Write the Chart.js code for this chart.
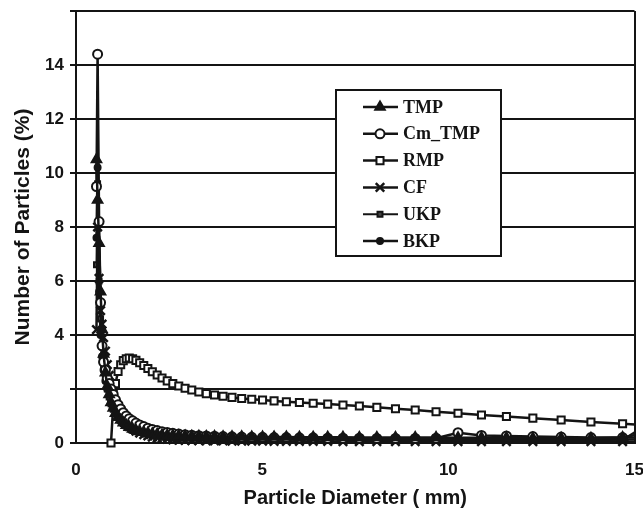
<!DOCTYPE html>
<html>
<head>
<meta charset="utf-8">
<script src="https://cdn.jsdelivr.net/npm/chart.js@4/dist/chart.umd.min.js"></script>
<style>
html, body { margin: 0; padding: 0; background: #fff; }
#wrap { width: 643px; height: 512px; }
</style>
</head>
<body>
<div id="wrap"><canvas id="psd"></canvas></div>
<script>
// particle diameter bins (mm)
const diameter = [0.55, 0.58, 0.62, 0.66, 0.70, 0.74, 0.79, 0.84, 0.89, 0.94,
  1.00, 1.06, 1.13, 1.20, 1.27, 1.35, 1.43, 1.52, 1.61, 1.71,
  1.82, 1.93, 2.05, 2.18, 2.31, 2.45, 2.60, 2.76, 2.93, 3.11,
  3.30, 3.50, 3.72, 3.95, 4.19, 4.45, 4.72, 5.01, 5.32, 5.65,
  6.00, 6.37, 6.76, 7.17, 7.61, 8.08, 8.58, 9.11, 9.67, 10.26,
  10.89, 11.56, 12.27, 13.03, 13.83, 14.68, 15.58];

const tmp = [10.5, 9.0, 7.4, 5.6, 4.2, 3.3, 2.6, 2.1, 1.8, 1.5,
  1.3, 1.1, 0.95, 0.85, 0.75, 0.66, 0.58, 0.52, 0.47, 0.43,
  0.40, 0.37, 0.34, 0.32, 0.30, 0.29, 0.28, 0.27, 0.26, 0.25,
  0.25, 0.24, 0.24, 0.23, 0.23, 0.23, 0.22, 0.22, 0.22, 0.22,
  0.21, 0.21, 0.21, 0.21, 0.20, 0.20, 0.20, 0.20, 0.20, 0.19,
  0.19, 0.19, 0.18, 0.18, 0.18, 0.20, 0.45];

const cmTmp = [9.5, 14.4, 8.2, 5.2, 3.6, 3.0, 2.7, 2.4, 2.2, 2.0,
  1.8, 1.6, 1.42, 1.26, 1.12, 1.0, 0.9, 0.82, 0.74, 0.67,
  0.61, 0.55, 0.50, 0.46, 0.42, 0.39, 0.36, 0.33, 0.31, 0.29,
  0.27, 0.26, 0.25, 0.24, 0.23, 0.22, 0.21, 0.21, 0.20, 0.20,
  0.19, 0.19, 0.18, 0.18, 0.18, 0.17, 0.17, 0.17, 0.18, 0.38,
  0.28, 0.26, 0.24, 0.22, 0.20, 0.20, 0.22];

const rmp = [null, null, null, null, null, null, null, null, null, 0.0,
  1.4, 2.2, 2.65, 2.9, 3.05, 3.12, 3.15, 3.12, 3.06, 2.97,
  2.87, 2.76, 2.64, 2.52, 2.41, 2.30, 2.20, 2.11, 2.03, 1.96,
  1.89, 1.83, 1.78, 1.73, 1.69, 1.65, 1.62, 1.59, 1.56, 1.53,
  1.50, 1.47, 1.44, 1.41, 1.37, 1.32, 1.27, 1.22, 1.16, 1.10,
  1.04, 0.98, 0.92, 0.85, 0.78, 0.71, 0.64];

const cf = [4.2, 8.0, 6.1, 4.9, 4.4, 3.9, 3.4, 2.9, 2.5, 2.1,
  1.8, 1.5, 1.25, 1.05, 0.88, 0.74, 0.62, 0.52, 0.44, 0.37,
  0.31, 0.26, 0.22, 0.19, 0.16, 0.14, 0.12, 0.11, 0.10, 0.09,
  0.09, 0.08, 0.08, 0.08, 0.07, 0.07, 0.07, 0.07, 0.06, 0.06,
  0.06, 0.06, 0.06, 0.05, 0.05, 0.05, 0.05, 0.05, 0.05, 0.05,
  0.05, 0.05, 0.05, 0.05, 0.05, 0.05, 0.05];

const ukp = [6.6, 9.6, 6.0, 4.6, 3.6, 2.9, 2.4, 2.0, 1.7, 1.45,
  1.25, 1.08, 0.94, 0.82, 0.72, 0.63, 0.56, 0.50, 0.45, 0.40,
  0.36, 0.33, 0.30, 0.27, 0.25, 0.23, 0.21, 0.20, 0.19, 0.18,
  0.17, 0.16, 0.15, 0.15, 0.14, 0.14, 0.13, 0.13, 0.13, 0.12,
  0.12, 0.12, 0.12, 0.11, 0.11, 0.11, 0.11, 0.11, 0.10, 0.10,
  0.10, 0.10, 0.10, 0.10, 0.10, 0.12, 0.9];

const bkp = [7.6, 10.2, 5.6, 4.0, 3.2, 2.7, 2.3, 2.0, 1.75, 1.55,
  1.38, 1.22, 1.08, 0.96, 0.85, 0.76, 0.68, 0.61, 0.55, 0.50,
  0.45, 0.41, 0.38, 0.35, 0.32, 0.30, 0.28, 0.26, 0.25, 0.24,
  0.23, 0.22, 0.21, 0.20, 0.19, 0.19, 0.18, 0.18, 0.17, 0.17,
  0.16, 0.16, 0.16, 0.15, 0.15, 0.15, 0.15, 0.14, 0.14, 0.14,
  0.14, 0.14, 0.13, 0.13, 0.13, 0.13, 0.13];

const yTickLabels = [0, 4, 6, 8, 10, 12, 14];

const ink = "#141414";

function series(label, values, style) {
  return Object.assign({
    label: label,
    data: diameter.map((d, i) => ({ x: d, y: values[i] })),
    borderColor: ink,
    borderWidth: 2.5,
    pointBorderColor: ink,
    pointBorderWidth: 2,
    tension: 0,
    clip: { left: 8, top: 8, right: 0, bottom: 8 }
  }, style);
}

// legend box drawn inside the plot, like the scanned figure
const legendBox = {
  id: "legendBox",
  afterDatasetsDraw(chart) {
    const ctx = chart.ctx;
    const bx = 336, by = 90, bw = 165, bh = 166;
    ctx.save();
    ctx.fillStyle = "#fff";
    ctx.fillRect(bx, by, bw, bh);
    ctx.strokeStyle = ink;
    ctx.lineWidth = 2;
    ctx.strokeRect(bx, by, bw, bh);
    chart.data.datasets.forEach((ds, i) => {
      const y = 107 + i * 26.8;
      ctx.strokeStyle = ink;
      ctx.lineWidth = ds.borderWidth;
      ctx.beginPath();
      ctx.moveTo(363, y);
      ctx.lineTo(398, y);
      ctx.stroke();
      ctx.fillStyle = ds.pointBackgroundColor;
      ctx.strokeStyle = ink;
      ctx.lineWidth = ds.pointBorderWidth;
      Chart.helpers.drawPoint(ctx, {
        pointStyle: ds.pointStyle,
        radius: ds.pointRadius,
        rotation: 0,
        borderWidth: ds.pointBorderWidth
      }, 380, y);
      ctx.fillStyle = ink;
      ctx.font = "bold 18px 'Liberation Serif'";
      ctx.textBaseline = "middle";
      ctx.textAlign = "left";
      ctx.fillText(ds.label, 403, y + 1);
    });
    ctx.restore();
  }
};

new Chart(document.getElementById("psd"), {
  type: "line",
  data: {
    datasets: [
      series("TMP", tmp, { pointStyle: "triangle", pointRadius: 5.5, pointBackgroundColor: ink }),
      series("Cm_TMP", cmTmp, { pointStyle: "circle", pointRadius: 4.5, pointBackgroundColor: "#fff" }),
      series("RMP", rmp, { pointStyle: "rect", pointRadius: 5, pointBackgroundColor: "#fff" }),
      series("CF", cf, { pointStyle: "crossRot", pointRadius: 6, pointBackgroundColor: ink, pointBorderWidth: 2.5 }),
      series("UKP", ukp, { pointStyle: "rect", pointRadius: 3.5, pointBackgroundColor: "#444", borderWidth: 2 }),
      series("BKP", bkp, { pointStyle: "circle", pointRadius: 3, pointBackgroundColor: ink })
    ]
  },
  options: {
    responsive: true,
    maintainAspectRatio: false,
    animation: false,
    layout: { padding: { top: 11, right: 8, left: 0, bottom: 0 } },
    plugins: {
      legend: { display: false },
      tooltip: { enabled: false }
    },
    scales: {
      x: {
        type: "linear",
        min: 0,
        max: 15,
        afterFit: (s) => { s.height = 69; s.paddingLeft = 0; s.paddingRight = 0; },
        ticks: {
          stepSize: 5,
          padding: 17,
          color: ink,
          font: { family: "Liberation Sans", weight: "bold", size: 17 }
        },
        grid: {
          drawTicks: false,
          lineWidth: 2,
          color: (c) => (c.tick && c.tick.value === 15 ? ink : "rgba(0,0,0,0)")
        },
        border: { color: ink, width: 2 },
        title: {
          display: true,
          text: "Particle Diameter ( mm)",
          color: ink,
          font: { family: "Liberation Sans", weight: "bold", size: 20 },
          padding: { top: 0, bottom: 2 }
        }
      },
      y: {
        min: 0,
        max: 16,
        afterFit: (s) => { s.width = 76; s.paddingTop = 0; s.paddingBottom = 0; },
        ticks: {
          stepSize: 2,
          padding: 6,
          color: ink,
          font: { family: "Liberation Sans", weight: "bold", size: 17 },
          callback: (v) => (yTickLabels.includes(v) ? v : "")
        },
        grid: { color: ink, lineWidth: 2, tickLength: 6 },
        border: { color: ink, width: 2 },
        title: {
          display: true,
          text: "Number of Particles (%)",
          color: ink,
          font: { family: "Liberation Sans", weight: "bold", size: 21 },
          padding: { top: 11, bottom: 0 }
        }
      }
    }
  },
  plugins: [legendBox]
});
</script>
</body>
</html>
